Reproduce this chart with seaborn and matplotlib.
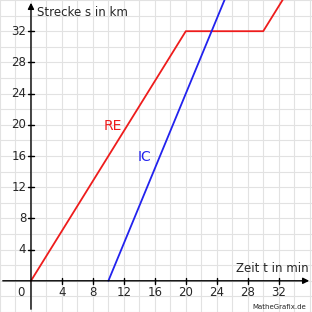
import numpy as np
import pandas as pd
import matplotlib
matplotlib.use("Agg")
import matplotlib.pyplot as plt
import seaborn as sns

# RE: Zeit (min) und Strecke (km)
re_t = [0, 20, 30, 40]
re_s = [0, 32, 32, 48]
# IC
ic_t = [10, 25, 30]
ic_s = [0, 36, 48]

ticks = [4, 8, 12, 16, 20, 24, 28, 32]

sns.set_style("white")
plt.rcParams['font.family'] = ['DejaVu Sans']

fig = plt.figure(figsize=(3.12, 3.12), dpi=100)
ax = fig.add_axes([0, 0, 1, 1])

xmin, xmax = -4, 36.3
ymin, ymax = -4, 36

# grid every 2 units
for g in np.arange(-4, 38, 2):
    ax.axvline(g, color='#e2e2e2', lw=0.8, zorder=0)
    ax.axhline(g, color='#e2e2e2', lw=0.8, zorder=0)

re_df = pd.DataFrame({'t': re_t, 's': re_s})
ic_df = pd.DataFrame({'t': ic_t, 's': ic_s})
sns.lineplot(data=re_df, x='t', y='s', color='#ee1c1c', lw=1.3, ax=ax, sort=False, zorder=3)
sns.lineplot(data=ic_df, x='t', y='s', color='#2222ee', lw=1.3, ax=ax, sort=False, zorder=3)

ax.set_xlim(xmin, xmax)
ax.set_ylim(ymin, ymax)
ax.axis('off')

# axes with arrows
ax.annotate('', xy=(xmax, 0), xytext=(xmin, 0),
            arrowprops=dict(arrowstyle='-|>', color='black', lw=1.0, mutation_scale=9), zorder=4)
ax.annotate('', xy=(0, ymax), xytext=(0, ymin),
            arrowprops=dict(arrowstyle='-|>', color='black', lw=1.0, mutation_scale=9), zorder=4)

for t in ticks:
    ax.plot([t, t], [-0.4, 0.4], color='black', lw=1.0, zorder=4)
    ax.text(t, -1.5, str(t), ha='center', va='center', fontsize=8.5)
    ax.plot([-0.4, 0.4], [t, t], color='black', lw=1.0, zorder=4)
    ax.text(-0.6, t, str(t), ha='right', va='center', fontsize=8.5)
ax.text(-1.3, -1.5, '0', ha='center', va='center', fontsize=8.5)

ax.text(0.8, 34.4, 'Strecke s in km', ha='left', va='center', fontsize=8.5)
ax.text(35.9, 0.8, 'Zeit t in min', ha='right', va='bottom', fontsize=8.5)
ax.text(10.6, 19.9, 'RE', color='#ee1c1c', ha='center', va='center', fontsize=10)
ax.text(14.7, 15.9, 'IC', color='#2222ee', ha='center', va='center', fontsize=10)
ax.text(35.6, -3.3, 'MatheGrafix.de', ha='right', va='center', fontsize=5)

fig.savefig('out.png', dpi=100)
